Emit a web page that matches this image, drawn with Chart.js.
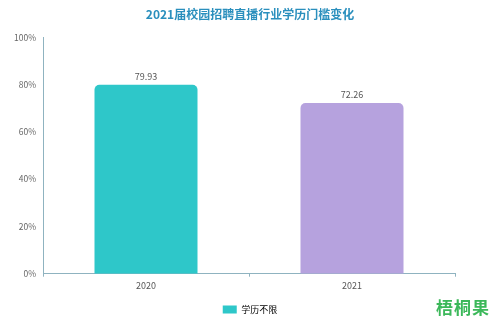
<!DOCTYPE html>
<html>
<head>
<meta charset="utf-8">
<script src="https://cdn.jsdelivr.net/npm/chart.js@4.4.1/dist/chart.umd.min.js"></script>
<style>
  html, body { margin: 0; padding: 0; background: #fff; }
  #wrap { position: relative; width: 500px; height: 320px; }
  #mark { position: absolute; right: 10px; bottom: 1px; font: bold 17px "Noto Sans CJK SC", sans-serif; color: #3cb85a; letter-spacing: 1px; }
</style>
</head>
<body>
<div id="wrap">
  <canvas id="chart" width="500" height="320"></canvas>
  <div id="mark">梧桐果</div>
</div>
<script>
const years = ['2020', '2021'];
const values = [79.93, 72.26];
const barColors = ['#2ec7c9', '#b6a2de'];
const seriesName = '学历不限';
const titleText = '2021届校园招聘直播行业学历门槛变化';

const FONT = '"Noto Sans CJK SC", "Noto Sans", sans-serif';

// value labels above the bars
const valueLabels = {
  id: 'valueLabels',
  afterDatasetsDraw(chart) {
    const ctx = chart.ctx;
    const meta = chart.getDatasetMeta(0);
    ctx.save();
    ctx.font = '9px ' + FONT;
    ctx.fillStyle = '#555';
    ctx.textAlign = 'center';
    ctx.textBaseline = 'bottom';
    meta.data.forEach((bar, i) => {
      ctx.fillText(values[i].toFixed(2), bar.x, bar.y - 4);
    });
    ctx.restore();
  }
};

new Chart(document.getElementById('chart'), {
  type: 'bar',
  data: {
    labels: years,
    datasets: [{
      label: seriesName,
      data: values,
      backgroundColor: barColors,
      borderRadius: { topLeft: 5, topRight: 5 },
      borderSkipped: 'bottom',
      categoryPercentage: 1,
      barPercentage: 0.5
    }]
  },
  options: {
    responsive: false,
    animation: false,
    layout: { padding: { bottom: -4 } },
    plugins: {
      title: {
        display: true,
        text: titleText,
        color: '#2a8fbd',
        font: { family: FONT, size: 12, weight: 'bold' },
        padding: { top: 7, bottom: 16 }
      },
      legend: {
        position: 'bottom',
        labels: {
          color: '#666',
          font: { family: FONT, size: 9 },
          boxWidth: 14,
          boxHeight: 8,
          padding: 8.5,
          useBorderRadius: true,
          borderRadius: 2,
          generateLabels: () => [{
            text: seriesName,
            fillStyle: barColors[0],
            strokeStyle: barColors[0],
            lineWidth: 0,
            datasetIndex: 0
          }]
        }
      },
      tooltip: { enabled: false }
    },
    scales: {
      x: {
        afterFit(scale) { scale.height += 3; },
        grid: { display: true, drawOnChartArea: false, drawTicks: true, tickLength: 3, offset: true, color: '#8fb3c0' },
        border: { color: '#8fb3c0', width: 1 },
        ticks: { color: '#555', font: { family: FONT, size: 9 }, padding: 3 }
      },
      y: {
        min: 0,
        max: 100,
        afterFit(scale) { scale.width = 43; },
        grid: { display: false, drawTicks: true, tickLength: 4, tickColor: '#8fb3c0' },
        border: { color: '#8fb3c0', width: 1 },
        ticks: {
          stepSize: 20,
          color: '#666',
          font: { family: FONT, size: 8.5 },
          padding: 3,
          callback: v => v + '%'
        }
      },
      // empty right axis, only keeps the right margin
      yRight: {
        position: 'right',
        min: 0,
        max: 100,
        afterFit(scale) { scale.width = 45; },
        grid: { display: false },
        border: { display: false },
        ticks: { display: false }
      }
    }
  },
  plugins: [valueLabels]
});
</script>
</body>
</html>
